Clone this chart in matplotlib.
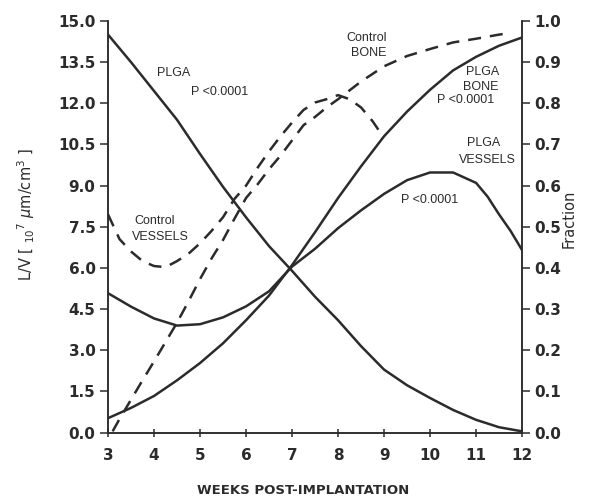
import numpy as np
import matplotlib
matplotlib.use("Agg")
import matplotlib.pyplot as plt

# weeks post-implantation
weeks = [3, 3.5, 4, 4.5, 5, 5.5, 6, 6.5, 7, 7.5, 8, 8.5, 9, 9.5, 10, 10.5, 11, 11.5, 12]

# fraction curves (right axis)
plga_frac = [0.967, 0.9, 0.83, 0.76, 0.677, 0.597, 0.523, 0.453, 0.393, 0.33, 0.273,
             0.21, 0.153, 0.115, 0.084, 0.055, 0.031, 0.013, 0.003]
plga_bone = [0.035, 0.06, 0.089, 0.127, 0.169, 0.217, 0.273, 0.333, 0.407, 0.487, 0.57,
             0.647, 0.72, 0.78, 0.833, 0.88, 0.913, 0.94, 0.96]

ctrl_bone_wk = [3.1, 3.25, 3.5, 3.75, 4, 4.25, 4.5, 4.75, 5, 5.25, 5.5, 5.75, 6, 6.25, 6.5,
                6.75, 7, 7.25, 7.5, 7.75, 8, 8.5, 9, 9.5, 10, 10.5, 11, 11.5, 11.75]
ctrl_bone = [0.003, 0.033, 0.08, 0.127, 0.173, 0.22, 0.267, 0.319, 0.373, 0.423, 0.468,
             0.52, 0.57, 0.603, 0.64, 0.673, 0.71, 0.747, 0.767, 0.79, 0.81, 0.853, 0.89,
             0.915, 0.932, 0.948, 0.957, 0.967, 0.971]

# vessel length density (left axis, 10^7 um/cm^3)
plga_ves_wk = [3, 3.5, 4, 4.5, 5, 5.5, 6, 6.5, 7, 7.5, 8, 8.5, 9, 9.5, 10, 10.5, 11, 11.25,
               11.5, 11.75, 12]
plga_ves = [5.08, 4.59, 4.16, 3.9, 3.95, 4.2, 4.6, 5.15, 6.05, 6.7, 7.45, 8.1, 8.7, 9.2,
            9.48, 9.48, 9.1, 8.6, 7.95, 7.35, 6.65]

ctrl_ves_wk = [3, 3.25, 3.5, 3.75, 4, 4.25, 4.5, 4.75, 5, 5.25, 5.5, 5.75, 6, 6.25, 6.5,
               6.75, 7, 7.25, 7.5, 7.75, 8, 8.25, 8.5, 8.75, 8.88]
ctrl_ves = [7.95, 7.05, 6.6, 6.25, 6.07, 6.03, 6.25, 6.52, 6.9, 7.35, 7.85, 8.52, 9.0,
            9.65, 10.25, 10.8, 11.3, 11.76, 12.03, 12.15, 12.3, 12.15, 11.85, 11.35, 11.03]

lv_ticks = [0.0, 1.5, 3.0, 4.5, 6.0, 7.5, 9.0, 10.5, 12.0, 13.5, 15.0]
frac_ticks = [0.0, 0.1, 0.2, 0.3, 0.4, 0.5, 0.6, 0.7, 0.8, 0.9, 1.0]
week_ticks = [3, 4, 5, 6, 7, 8, 9, 10, 11, 12]

ink = '#2b2b2b'
dash = (5.2, 3.6)

fig = plt.figure(figsize=(5.89, 4.97), dpi=100)
ax = fig.add_axes([0.1834, 0.1296, 0.703, 0.8281])
ax2 = ax.twinx()

ax.plot(plga_ves_wk, plga_ves, color=ink, lw=1.8)
ax.plot(ctrl_ves_wk, ctrl_ves, color=ink, lw=1.8, dashes=dash)
ax2.plot(weeks, plga_frac, color=ink, lw=1.8)
ax2.plot(weeks, plga_bone, color=ink, lw=1.8)
ax2.plot(ctrl_bone_wk, ctrl_bone, color=ink, lw=1.8, dashes=dash)

ax.set_xlim(3, 12)
ax.set_ylim(0, 15)
ax2.set_ylim(0, 1)

ax.set_xticks(week_ticks)
ax.set_xticklabels([str(w) for w in week_ticks])
ax.set_yticks(lv_ticks)
ax.set_yticklabels(['%.1f' % v for v in lv_ticks])
ax2.set_yticks(frac_ticks)
ax2.set_yticklabels(['%.1f' % v for v in frac_ticks])

for a in (ax, ax2):
    a.spines['top'].set_visible(False)
    for s in a.spines.values():
        s.set_color(ink)
        s.set_linewidth(1.1)
    a.tick_params(colors=ink, width=1.1, labelsize=11)
    for lab in a.get_yticklabels() + a.get_xticklabels():
        lab.set_fontweight('bold')

ax.tick_params(axis='y', direction='out', length=6, pad=3)
ax.tick_params(axis='x', direction='inout', length=6, pad=8)
ax2.tick_params(axis='y', direction='out', length=6, pad=3)

ax.set_xlabel('WEEKS POST-IMPLANTATION', fontsize=9.5, fontweight='bold', color=ink)
ax.xaxis.set_label_coords(0.471, -0.124)
ax.set_ylabel(r'L/V [ $_{10}$$^{7}$ $\mu$m/cm$^{3}$ ]', fontsize=10.5, color=ink)
ax.yaxis.set_label_coords(-0.172, 0.53)
ax2.set_ylabel('Fraction', fontsize=10.5, color=ink, rotation=90)
ax2.yaxis.set_label_coords(1.095, 0.52)

txt = dict(fontsize=9, family='Liberation Sans', color=ink, ha='center', va='center')
ax.text(4.43, 13.12, 'PLGA', **txt)
ax.text(5.43, 12.42, 'P <0.0001', **txt)
ax.text(8.62, 14.37, 'Control', **txt)
ax.text(8.66, 13.82, 'BONE', **txt)
ax.text(11.15, 13.15, 'PLGA', **txt)
ax.text(11.1, 12.6, 'BONE', **txt)
ax.text(10.78, 12.12, 'P <0.0001', **txt)
ax.text(11.17, 10.54, 'PLGA', **txt)
ax.text(11.25, 9.93, 'VESSELS', **txt)
ax.text(9.98, 8.48, 'P <0.0001', **txt)
ax.text(4.02, 7.72, 'Control', **txt)
ax.text(4.14, 7.14, 'VESSELS', **txt)

fig.savefig('out.png', dpi=100, facecolor='white')
